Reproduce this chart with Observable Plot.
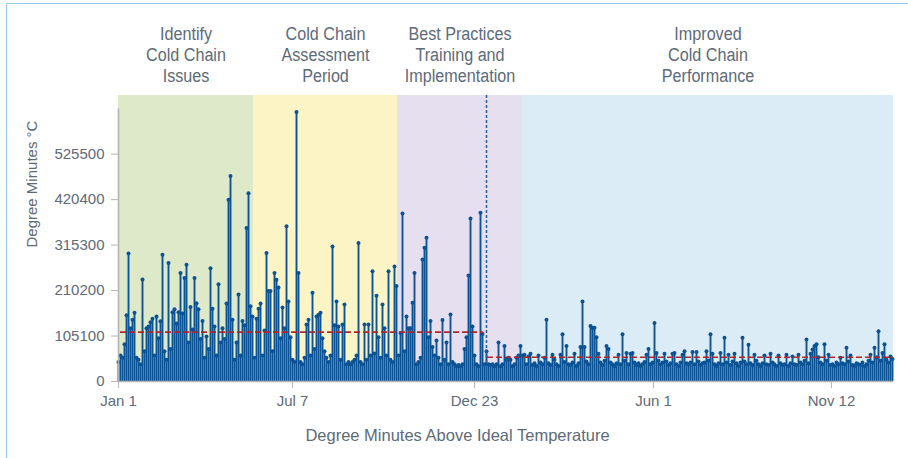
<!DOCTYPE html>
<html>
<head>
<meta charset="utf-8">
<script src="https://cdn.jsdelivr.net/npm/d3@7"></script>
<script src="https://cdn.jsdelivr.net/npm/@observablehq/plot@0.6"></script>
<style>
  html, body { margin: 0; padding: 0; background: #fff; overflow: hidden; }
  #wrap { position: relative; width: 908px; height: 458px; }
  #frame { position: absolute; left: 6px; top: 3px; width: 1200px; height: 1200px;
           border-top: 1.5px solid #8fcbef; border-left: 1.5px solid #8fcbef; }
  #chart { position: absolute; left: 0; top: 0; }
</style>
</head>
<body>
<div id="wrap"><div id="frame"></div><div id="chart"></div></div>
<script>
// Degree minutes above ideal temperature (thousands), one value per reading, in order
const phase1Values = [45,60,55,86,153,296,123,143,159,55,50,40,236,70,123,127,137,145,60,150,
  100,139,293,70,50,274,75,160,167,134,160,251,157,239,270,90,172,120,239,181,
  167,98,140,55,104,75,262,168,127,60,225,90,123,98,180,420,475,143,50,90,
  201,60,140,130,355,435,174,150];
const phase2Values = [55,145,168,180,60,118,297,209,209,70,
  251,235,217,100,171,123,359,185,102,50,
  45,623,251,45,40,55,132,143,60,205,
  75,150,154,159,100,70,55,45,60,312,
  130,185,127,50,132,178,40,45,40,45,
  50,60,320,45,40,132,50,132,60,255,
  65,198,102,55,178,123,60,255,50,45,266,221];
const phase3Values = [60,112,388,70,150,123,123,182,251,40,
  45,55,282,309,332,102,140,80,60,95,
  55,40,142,50,90,40,155,45,40,35,
  38,35,40,75,102,245,377,127,60,40,
  35,390,110,40,70,40,38,40,35,40,
  90,35,40,82,50,55,50,35,40,55,60,82,60];
const phase4Values = [62,40,58,64,38,42,36,60,44,40,
  55,143,42,38,62,50,40,36,62,109,
  45,82,40,38,44,64,36,42,80,185,
  80,46,40,128,124,124,102,64,44,38,
  48,82,75,44,40,36,42,62,40,109,
  48,66,40,64,66,44,38,42,36,40,
  45,62,75,40,44,135,66,48,40,44,
  64,46,38,42,64,66,40,36,44,62,
  70,42,40,44,68,40,68,46,38,42,
  44,70,48,109,64,40,36,42,66,40,
  101,44,62,38,46,64,42,36,44,101,
  46,40,85,42,38,62,48,40,36,42,
  60,40,38,64,44,40,36,60,42,38,
  40,62,36,42,58,40,38,62,44,40,
  48,97,42,64,74,82,86,56,44,40,
  86,48,62,38,40,36,44,40,55,42,
  40,78,46,60,38,36,42,40,38,44,
  36,40,48,62,44,78,56,116,48,66,
  86,50,44,58,52];

// Phases (reading index ranges)
const phaseLabels = ["Identify\nCold Chain\nIssues", "Cold Chain\nAssessment\nPeriod",
  "Best Practices\nTraining and\nImplementation", "Improved\nCold Chain\nPerformance"];
const phaseStart = [0, 67.5, 139.5, 202];
const phaseEnd = [67.5, 139.5, 202, 387.5];
const phaseColors = ["#dde9c9", "#fdf4c6", "#e6dff0", "#dcecf6"];

// Averages before / after intervention
const meanStart = [1, 184.5];
const meanEnd = [182.5, 387.5];
const meanValues = [114000, 56000];
const interventionIndex = 184;

// Axis ticks
const yTicks = [0, 105100, 210200, 315300, 420400, 525500];
const yAxisTop = 630600;
const xTickIndex = [0, 87, 178, 267.5, 356.5];
const xTickLabels = ["Jan 1", "Jul 7", "Dec 23", "Jun 1", "Nov 12"];

const allValues = [...phase1Values, ...phase2Values, ...phase3Values, ...phase4Values];
const readings = allValues.map((v, i) => ({i, value: v * 1000}));
const phases = phaseLabels.map((label, k) => ({label, x1: phaseStart[k], x2: phaseEnd[k],
  mid: (phaseStart[k] + phaseEnd[k]) / 2, color: phaseColors[k]}));
const means = meanValues.map((m, k) => ({x1: meanStart[k], x2: meanEnd[k], y: m}));
const tickLabelOf = new Map(xTickIndex.map((t, k) => [t, xTickLabels[k]]));

const textColor = "#5d6a78";
const axisColor = "#b4b4b4";
const blue = "#0b5394";

const chart = Plot.plot({
  width: 908, height: 458,
  marginLeft: 118, marginRight: 15, marginTop: 95, marginBottom: 77,
  x: {domain: [0, 387.5]},
  y: {domain: [0, 661000]},
  style: {fontFamily: "'Liberation Sans', Arial, Helvetica, sans-serif", fontSize: "15px", color: textColor, background: "transparent"},
  marks: [
    Plot.rect(phases, {x1: "x1", x2: "x2", fill: "color"}),
    Plot.text(phases, {x: "mid", text: "label", frameAnchor: "top", lineAnchor: "bottom", dy: -13.5,
      fontSize: 19, lineHeight: 1.11, fill: textColor,
      fontFamily: "'Liberation Sans', Arial, sans-serif"}),
    Plot.ruleX(readings, {x: "i", y1: 0, y2: "value", stroke: blue, strokeWidth: 1.9}),
    Plot.dot(readings, {x: "i", y: "value", r: 2, fill: blue}),
    Plot.ruleY(means, {x1: "x1", x2: "x2", y: "y", stroke: "#b3242b", strokeWidth: 1.6, strokeDasharray: "6,3"}),
    Plot.ruleX([interventionIndex], {stroke: "#1d5fa3", strokeWidth: 1.5, strokeDasharray: "3,2"}),
    Plot.ruleY([0], {stroke: axisColor, strokeWidth: 1.6}),
    Plot.ruleX([0], {y1: 0, y2: yAxisTop, stroke: axisColor, strokeWidth: 1.6}),
    Plot.axisY({ticks: yTicks, tickFormat: d => String(d), tickSize: 7, tickPadding: 7, stroke: axisColor, label: null}),
    Plot.axisX({ticks: xTickIndex, tickFormat: d => tickLabelOf.get(d), tickSize: 7, tickPadding: 7, stroke: axisColor, label: null}),
    Plot.text(["Degree Minutes °C"], {frameAnchor: "left", rotate: -90, dx: -86, dy: 9, fontSize: 15, fill: textColor}),
    Plot.text(["Degree Minutes Above Ideal Temperature"], {frameAnchor: "bottom", lineAnchor: "bottom", dx: -48.5, dy: 59.5, fontSize: 16.5, fill: textColor})
  ]
});
// condense the multi-line phase headers horizontally (the reference uses a condensed face)
chart.querySelectorAll("text").forEach(t => {
  if (!t.querySelector("tspan")) return;
  const tr = t.getAttribute("transform");
  if (tr) {
    t.setAttribute("transform", tr + " scale(0.85,1)");
  } else {
    const x = +(t.getAttribute("x") || 0), y = +(t.getAttribute("y") || 0);
    t.removeAttribute("x"); t.removeAttribute("y");
    t.setAttribute("transform", `translate(${x},${y}) scale(0.85,1)`);
  }
});
document.getElementById("chart").appendChild(chart);
</script>
</body>
</html>
